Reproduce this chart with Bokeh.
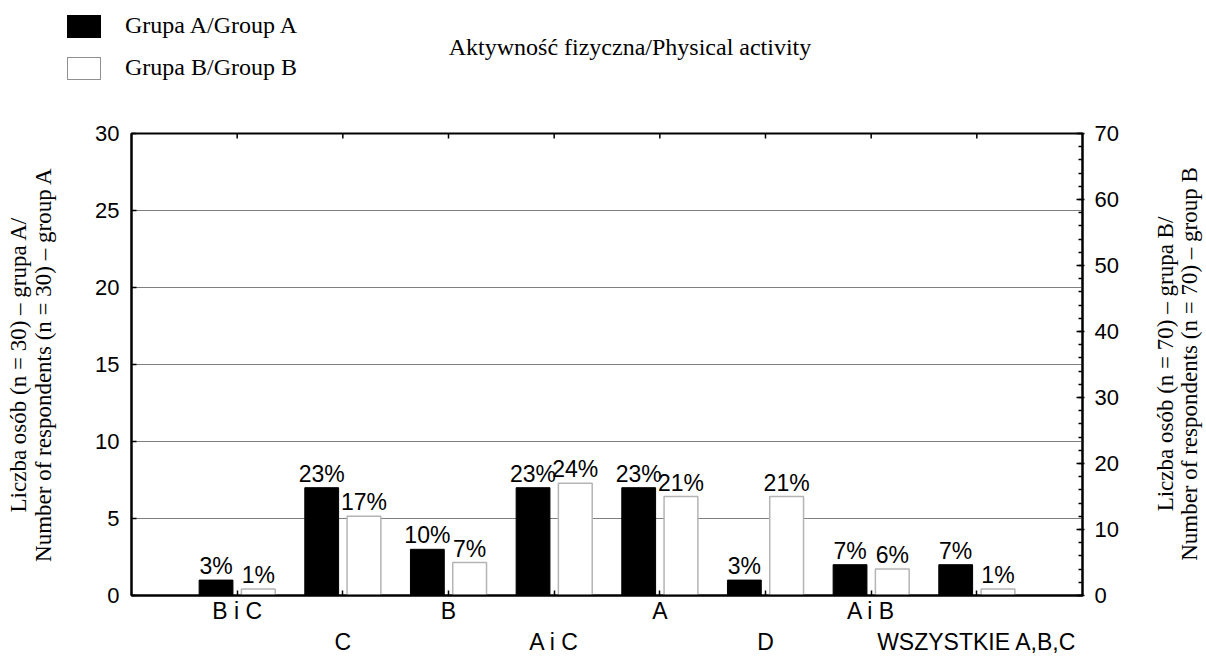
from bokeh.plotting import figure
from bokeh.models import (Range1d, LinearAxis, FixedTicker, SingleIntervalTicker,
                          ColumnDataSource, Grid, Div)
from bokeh.layouts import column, row
from bokeh.transform import dodge
from bokeh.embed import file_html
from bokeh.resources import INLINE
from bokeh.core.properties import value

# ---------------- data ----------------
categories = ["B i C", "C", "B", "A i C", "A", "D", "A i B", "WSZYSTKIE A,B,C"]
group_a = [1, 7, 3, 7, 7, 1, 2, 2]        # Grupa A, n = 30
group_b = [1, 12, 5, 17, 15, 15, 4, 1]    # Grupa B, n = 70
n_a = 30
n_b = 70
series_names = ["Grupa A/Group A", "Grupa B/Group B"]
series_fill = ["black", "white"]
series_line = ["black", "#909090"]
title_text = "Aktywność fizyczna/Physical activity"
left_title = ["Liczba osób (n = 30) – grupa A/", "Number of respondents (n = 30) – group A"]
right_title = ["Liczba osób (n = 70) – grupa B/", "Number of respondents (n = 70) – group B"]
left_ticks = [0, 5, 10, 15, 20, 25, 30]
right_max = 70

SANS = "Liberation Sans"
SERIF = "Liberation Serif"

pos = list(range(1, len(categories) + 1))
src = ColumnDataSource(dict(
    pos=pos,
    a=group_a,
    b=group_b,
    a_pct=[f"{round(100 * v / n_a)}%" for v in group_a],
    b_pct=[f"{round(100 * v / n_b)}%" for v in group_b],
))

W, H = 1206, 657
HEADER_H = 100
FL, FR, FT, FB = 131, 1082, 133, 595
PLOT_W = 1140
x_max = len(categories) + 1
px_y = (FB - FT) / n_a

# ---------------- header: legend + title ----------------
items_html = ""
for k, (name, fc, lc) in enumerate(zip(series_names, series_fill, series_line)):
    top = 15 + 42 * k
    items_html += (
        f'<div style="position:absolute;left:67px;top:{top}px;width:34px;height:23px;'
        f'background:{fc};border:1.5px solid {lc};box-sizing:border-box"></div>'
        f'<div style="position:absolute;left:125px;top:{top - 2}px;height:25px;'
        f'line-height:25px;white-space:nowrap">{name}</div>'
    )
header_html = (
    f'<div style="position:relative;width:{W}px;height:{HEADER_H}px;'
    f"font-family:'{SERIF}';font-size:24px;color:black\">"
    + items_html +
    f'<div style="position:absolute;left:0px;width:1260px;top:35px;height:25px;'
    f'line-height:25px;text-align:center;white-space:nowrap">{title_text}</div>'
    '</div>'
)
header = Div(text=header_html, width=W, height=HEADER_H, margin=0)

# ---------------- right-hand axis title (reads bottom to top) ----------------
RW = W - PLOT_W
rt_html = (
    f'<div style="position:relative;width:{RW}px;height:{H - HEADER_H}px;'
    f"font-family:'{SERIF}';font-size:23px;color:black\">"
    f'<div style="position:absolute;left:{1178 - PLOT_W}px;top:{(FT + FB) / 2 - HEADER_H}px;'
    'transform:translate(-50%,-50%) rotate(-90deg);white-space:nowrap;'
    'text-align:center;line-height:24px">'
    f'{right_title[0]}<br>{right_title[1]}</div></div>'
)
right_div = Div(text=rt_html, width=RW, height=H - HEADER_H, margin=0)

# ---------------- main chart ----------------
p = figure(width=PLOT_W, height=H - HEADER_H, x_range=Range1d(0, x_max),
           y_range=Range1d(0, n_a), output_backend="svg", toolbar_location=None,
           x_axis_type=None, y_axis_type=None,
           min_border_left=FL, min_border_right=PLOT_W - FR, min_border_top=FT - HEADER_H,
           min_border_bottom=H - FB, margin=0)
p.extra_y_ranges = {"right": Range1d(0, right_max)}
p.outline_line_color = "black"
p.outline_line_width = 2

p.add_layout(Grid(dimension=1, ticker=FixedTicker(ticks=left_ticks[1:-1]),
                  grid_line_color="#7f7f7f", grid_line_width=1))

p.vbar(x=dodge("pos", -0.2, range=p.x_range), top="a", width=0.32, source=src,
       fill_color=series_fill[0], line_color=series_line[0], line_width=1)
p.vbar(x=dodge("pos", 0.2, range=p.x_range), top="b", width=0.32, source=src,
       y_range_name="right", fill_color=series_fill[1], line_color="#b4b4b4", line_width=1.5)

p.text(x=dodge("pos", -0.2, range=p.x_range), y="a", text="a_pct", source=src,
       text_align="center", text_baseline="middle", y_offset=-14,
       text_font=value(SANS), text_font_size="23px", text_color="black")
p.text(x=dodge("pos", 0.2, range=p.x_range), y="b", text="b_pct", source=src,
       y_range_name="right", text_align="center", text_baseline="middle", y_offset=-14,
       text_font=value(SANS), text_font_size="23px", text_color="black")

# small inward ticks on the top frame edge at each category
p.segment(x0="pos", x1="pos", y0=n_a, y1=n_a - 5 / px_y, source=src,
          line_color="black", line_width=1.5)

def style(ax):
    ax.axis_line_color = "black"
    ax.axis_line_width = 2
    ax.major_tick_line_color = "black"
    ax.major_tick_line_width = 1.5
    ax.major_label_text_font = SANS
    ax.major_label_text_font_size = "22px"
    ax.major_label_text_color = "black"
    ax.axis_label_text_font = SERIF
    ax.axis_label_text_font_size = "23px"
    ax.axis_label_text_font_style = "normal"
    ax.axis_label_text_color = "black"

left = LinearAxis(ticker=FixedTicker(ticks=left_ticks))
style(left)
left.major_tick_in = 5
left.major_tick_out = 0
left.minor_tick_line_color = None
left.major_label_standoff = 12
left.axis_label = "\n".join(left_title)
left.axis_label_standoff = 36
left.axis_label_text_line_height = 1.0
p.add_layout(left, "left")

right = LinearAxis(y_range_name="right", ticker=SingleIntervalTicker(interval=10, num_minor_ticks=5))
style(right)
right.major_tick_in = 6
right.major_tick_out = 2
right.minor_tick_in = 4
right.minor_tick_out = 0
right.minor_tick_line_color = "black"
right.minor_tick_line_width = 1.5
right.major_label_standoff = 10
p.add_layout(right, "right")

# categories: staggered in two rows
bottom = LinearAxis(ticker=FixedTicker(ticks=pos),
                    major_label_overrides={i: (c if i % 2 == 1 else "\n" + c)
                                           for i, c in zip(pos, categories)})
style(bottom)
bottom.major_tick_in = 5
bottom.major_tick_out = 0
bottom.major_label_standoff = 2
bottom.major_label_text_font_size = "23px"
bottom.major_label_text_line_height = 1.2
p.add_layout(bottom, "below")

layout = column(header, row(p, right_div, spacing=0), spacing=0)
open("out.html", "w").write(file_html(layout, INLINE))
